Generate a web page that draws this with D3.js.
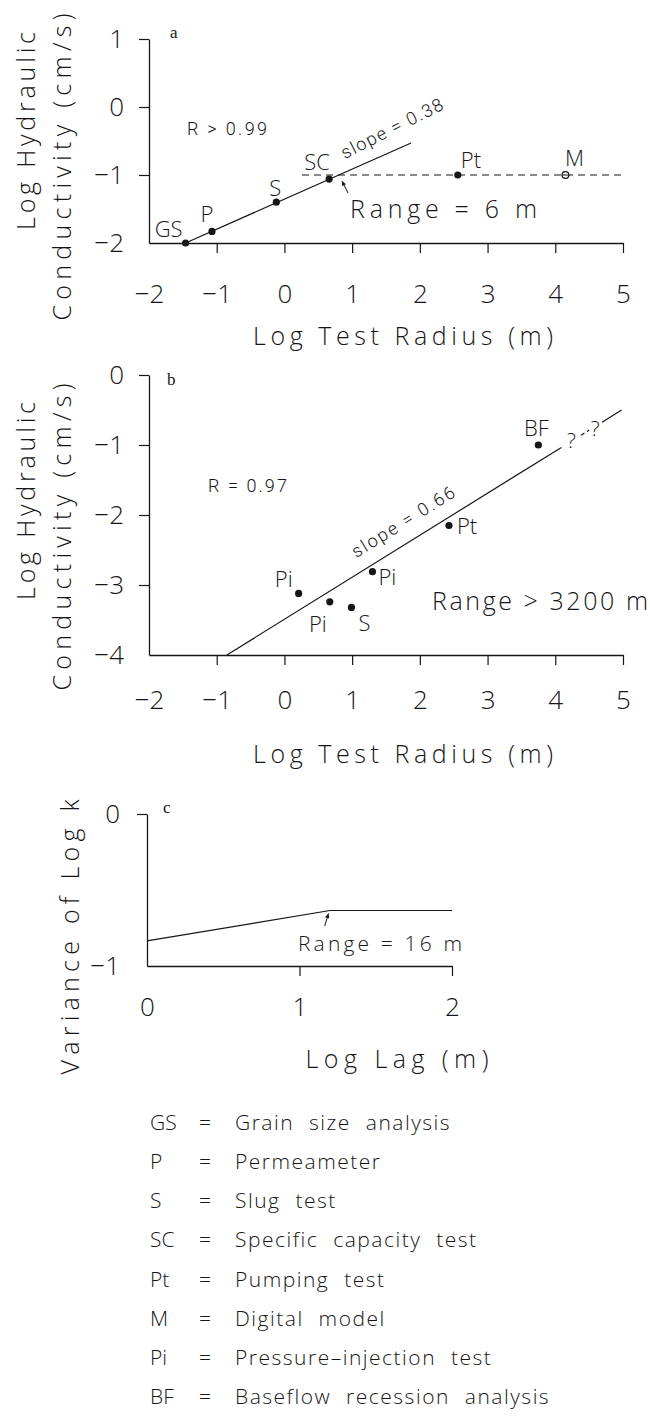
<!DOCTYPE html>
<html><head><meta charset="utf-8">
<script src="https://cdn.jsdelivr.net/npm/d3@7"></script>
<style>
body{margin:0;background:#fff;}
svg{display:block;}
</style></head><body>
<svg id="chart" width="650" height="1416"></svg>
<script>
// ---------------- DATA ----------------
const xTicksAB = [-2, -1, 0, 1, 2, 3, 4, 5];
const yTicksA = [1, 0, -1, -2];
const yTicksB = [0, -1, -2, -3, -4];
const xTicksC = [0, 1, 2];
const yTicksC = [0, -1];

// Panel a: scale-dependent conductivity (one aquifer)
const labelsA = ["GS", "P", "S", "SC", "Pt"];
const xA = [-1.46, -1.07, -0.12, 0.66, 2.56];
const yA = [-2.00, -1.83, -1.40, -1.06, -1.00];
const modelLabelA = "M";
const modelXA = 4.15, modelYA = -1.00;
const fitXA = [-1.46, 1.87];
const fitYA = [-2.00, -0.53];
const sillXA = [0.26, 5.0];
const sillYA = -1.0;

// Panel b: multiple aquifers
const labelsB = ["Pi", "Pi", "S", "Pi", "Pt", "BF"];
const xB = [0.21, 0.67, 0.99, 1.30, 2.43, 3.75];
const yB = [-3.12, -3.24, -3.32, -2.81, -2.15, -1.00];
const fitXB = [-0.85, 4.98];
const fitYB = [-4.00, -0.50];

// Panel c: variogram
const lagC = [0, 1.2, 2.0];
const varC = [-0.835, -0.635, -0.635];

// Texts
const panelNames = ["a", "b", "c"];
const yTitleAB = ["Log Hydraulic", "Conductivity (cm/s)"];
const xTitleAB = "Log Test Radius (m)";
const yTitleC = "Variance of Log k";
const xTitleC = "Log Lag (m)";
const statA = "R > 0.99", slopeA = "slope = 0.38", rangeA = "Range = 6 m";
const statB = "R = 0.97", slopeB = "slope = 0.66", rangeB = "Range > 3200 m";
const rangeC = "Range = 16 m";

const legendAbbr = ["GS", "P", "S", "SC", "Pt", "M", "Pi", "BF"];
const legendDesc = ["Grain size analysis", "Permeameter", "Slug test",
  "Specific capacity test", "Pumping test", "Digital model",
  "Pressure–injection test", "Baseflow recession analysis"];

// ---------------- DRAW ----------------
const svg = d3.select("#chart");
svg.append("rect").attr("width", 650).attr("height", 1416).attr("fill", "#fff");
const FONT = "'Open Sans', 'DejaVu Sans', sans-serif";
const HELV = "Roboto, 'Liberation Sans', Arial, sans-serif";
const SERIF = "'Liberation Serif', 'Times New Roman', serif";
const INK = "#161616";

function txt(g, s, x, y, size, opts = {}) {
  const t = g.append("text").attr("x", x).attr("y", y).text(s)
    .attr("font-family", opts.family || FONT)
    .attr("font-size", size)
    .attr("font-weight", opts.weight || 300)
    .attr("fill", INK)
    .attr("text-anchor", opts.anchor || "start");
  if (opts.len) t.attr("textLength", opts.len).attr("lengthAdjust", "spacing");
  if (opts.transform) t.attr("transform", opts.transform);
  return t;
}

function drawAxes(xs, ys, xTicks, yTicks, xPad, yPad) {
  const fmt = d3.format("d");
  const gx = svg.append("g").attr("transform", `translate(0,${ys.range()[0]})`)
    .call(d3.axisBottom(xs).tickValues(xTicks).tickFormat(fmt).tickSize(10).tickSizeOuter(0).tickPadding(xPad));
  gx.selectAll(".tick").filter(d => d === xs.domain()[0]).select("line").remove();
  const gy = svg.append("g").attr("transform", `translate(${xs.range()[0]},0)`)
    .call(d3.axisLeft(ys).tickValues(yTicks).tickFormat(fmt).tickSize(10).tickSizeOuter(0).tickPadding(yPad));
  gy.selectAll(".tick").filter(d => d === ys.domain()[0]).select("line").remove();
  [gx, gy].forEach(g => {
    g.select(".domain").attr("stroke", INK).attr("stroke-width", 1.3);
    g.selectAll(".tick line").attr("stroke", INK).attr("stroke-width", 1.2);
    g.selectAll("text").attr("font-family", FONT).attr("font-size", 26)
      .attr("font-weight", 300).attr("fill", INK);
  });
}

function arrow(x1, y1, x2, y2) {
  svg.append("line").attr("x1", x1).attr("y1", y1).attr("x2", x2).attr("y2", y2)
    .attr("stroke", INK).attr("stroke-width", 1);
  const a = Math.atan2(y2 - y1, x2 - x1);
  const h = 5, w = 0.45;
  svg.append("path")
    .attr("d", `M${x2},${y2}L${x2 - h * Math.cos(a - w)},${y2 - h * Math.sin(a - w)}L${x2 - h * Math.cos(a + w)},${y2 - h * Math.sin(a + w)}Z`)
    .attr("fill", INK);
}

const lineGen = (xs, ys) => d3.line().x(d => xs(d[0])).y(d => ys(d[1]));

// ===== Panel a =====
const sxA = d3.scaleLinear([-2, 5], [149, 623]);
const syA = d3.scaleLinear([-2, 1], [243, 39]);
drawAxes(sxA, syA, xTicksAB, yTicksA, 32, 15);
const g = svg.append("g");

g.append("line").attr("x1", sxA(sillXA[0])).attr("x2", sxA(sillXA[1]))
  .attr("y1", syA(sillYA)).attr("y2", syA(sillYA))
  .attr("stroke", INK).attr("stroke-width", 1.1).attr("stroke-dasharray", "7,5");
g.append("path").datum(d3.zip(fitXA, fitYA)).attr("d", lineGen(sxA, syA))
  .attr("fill", "none").attr("stroke", INK).attr("stroke-width", 1.2);
g.selectAll(".pa").data(d3.zip(xA, yA)).join("circle")
  .attr("cx", d => sxA(d[0])).attr("cy", d => syA(d[1])).attr("r", 3.6).attr("fill", INK);
g.append("circle").attr("cx", sxA(modelXA)).attr("cy", syA(modelYA)).attr("r", 3.4)
  .attr("fill", "#fff").attr("stroke", INK).attr("stroke-width", 1.2);
g.append("line").attr("x1", sxA(modelXA) - 3.4).attr("x2", sxA(modelXA) + 3.4)
  .attr("y1", syA(modelYA)).attr("y2", syA(modelYA)).attr("stroke", INK).attr("stroke-width", 1);
const offA = [[-3, -6, "end"], [-5, -9, "middle"], [-1, -6, "middle"], [-12, -9, "middle"], [3, -7, "start"]];
labelsA.forEach((l, i) => txt(g, l, sxA(xA[i]) + offA[i][0], syA(yA[i]) + offA[i][1], 22, { anchor: offA[i][2] }));
txt(g, modelLabelA, sxA(modelXA) + 9, syA(modelYA) - 9, 22, { anchor: "middle" });
txt(g, panelNames[0], 170, 38, 17, { family: SERIF, weight: 400 });
txt(g, statA, sxA(-1.44), syA(-0.41), 18, { family: HELV, weight: 300, len: 80 });
{
  const ang = Math.atan2(syA(fitYA[1]) - syA(fitYA[0]), sxA(fitXA[1]) - sxA(fitXA[0])) * 180 / Math.PI;
  const xs = 0.97, ysv = fitYA[0] + (xs - fitXA[0]) * (fitYA[1] - fitYA[0]) / (fitXA[1] - fitXA[0]);
  txt(g, slopeA, 0, -12, 18, { family: HELV, weight: 300, len: 112,
    transform: `translate(${sxA(xs)},${syA(ysv)}) rotate(${ang - 3})` });
}
txt(g, rangeA, sxA(0.97), syA(-1.63), 25, { len: 187 });
arrow(sxA(0.94), syA(-1.265), sxA(0.85), syA(-1.09));
txt(g, xTitleAB, 403, 345, 25, { anchor: "middle", len: 300 });
txt(g, yTitleAB[0], 0, 0, 25, { anchor: "middle", len: 198, transform: `translate(35,131) rotate(-90)` });
txt(g, yTitleAB[1], 0, 0, 25, { anchor: "middle", len: 307, transform: `translate(71,167) rotate(-90)` });

// ===== Panel b =====
const sxB = d3.scaleLinear([-2, 5], [149, 623]);
const syB = d3.scaleLinear([-4, 0], [655, 375]);
drawAxes(sxB, syB, xTicksAB, yTicksB, 26, 15);
const gb = svg.append("g");
const fitB = x => fitYB[0] + (x - fitXB[0]) * (fitYB[1] - fitYB[0]) / (fitXB[1] - fitXB[0]);
const segsB = [[fitXB[0], 4.09, null], [4.38, 4.50, "4,3"], [4.69, fitXB[1], null]];
segsB.forEach(s => {
  const l = gb.append("line").attr("x1", sxB(s[0])).attr("y1", syB(fitB(s[0])))
    .attr("x2", sxB(s[1])).attr("y2", syB(fitB(s[1])))
    .attr("stroke", INK).attr("stroke-width", 1.2);
  if (s[2]) l.attr("stroke-dasharray", s[2]);
});
[4.24, 4.59].forEach((xq, i) => txt(gb, "?", sxB(xq), syB(fitB(xq)) + 7 + i * 3, 21, { anchor: "middle" }));
gb.selectAll(".pb").data(d3.zip(xB, yB)).join("circle")
  .attr("cx", d => sxB(d[0])).attr("cy", d => syB(d[1])).attr("r", 3.6).attr("fill", INK);
const offB = [[-6, -6, "end"], [-3, 30, "end"], [7, 24, "start"], [6, 13, "start"], [8, 8, "start"], [-2, -9, "middle"]];
labelsB.forEach((l, i) => txt(gb, l, sxB(xB[i]) + offB[i][0], syB(yB[i]) + offB[i][1], 22, { anchor: offB[i][2] }));
txt(gb, panelNames[1], 167, 385, 17, { family: SERIF, weight: 400 });
txt(gb, statB, sxB(-1.13), syB(-1.67), 18, { family: HELV, weight: 300, len: 79 });
{
  const ang = Math.atan2(syB(fitYB[1]) - syB(fitYB[0]), sxB(fitXB[1]) - sxB(fitXB[0])) * 180 / Math.PI;
  const xs = 1.12;
  txt(gb, slopeB, 4, -14, 18, { family: HELV, weight: 300, len: 118,
    transform: `translate(${sxB(xs)},${syB(fitB(xs))}) rotate(${ang})` });
}
txt(gb, rangeB, sxB(2.18), syB(-3.36), 25, { len: 216 });
txt(gb, xTitleAB, 403, 763, 25, { anchor: "middle", len: 300 });
txt(gb, yTitleAB[0], 0, 0, 25, { anchor: "middle", len: 198, transform: `translate(35,501) rotate(-90)` });
txt(gb, yTitleAB[1], 0, 0, 25, { anchor: "middle", len: 307, transform: `translate(71,537) rotate(-90)` });

// ===== Panel c =====
const sxC = d3.scaleLinear([0, 2], [147, 452]);
const syC = d3.scaleLinear([-1, 0], [966, 814]);
drawAxes(sxC, syC, xTicksC, yTicksC, 22, 17);
const gc = svg.append("g");
gc.append("path").datum(d3.zip(lagC, varC)).attr("d", lineGen(sxC, syC))
  .attr("fill", "none").attr("stroke", INK).attr("stroke-width", 1.2);
arrow(sxC(1.165), syC(-0.737), sxC(1.19), syC(-0.655));
txt(gc, rangeC, sxC(0.99), syC(-0.90), 21, { len: 164 });
txt(gc, panelNames[2], 163, 813, 17, { family: SERIF, weight: 400 });
txt(gc, xTitleC, 397, 1068, 25, { anchor: "middle", len: 183 });
txt(gc, yTitleC, 0, 0, 25, { anchor: "middle", len: 275, transform: `translate(79,937) rotate(-90)` });

// ===== Legend =====
const gl = svg.append("g");
const rowY = d3.scalePoint(legendAbbr, [1130, 1404]);
legendAbbr.forEach((a, i) => {
  const y = rowY(a);
  txt(gl, a, 150, y, 21);
  txt(gl, "=", 205, y, 21, { anchor: "middle" });
  txt(gl, legendDesc[i], 235, y, 21).attr("letter-spacing", 1.5).attr("word-spacing", 8);
});
</script>
</body></html>
